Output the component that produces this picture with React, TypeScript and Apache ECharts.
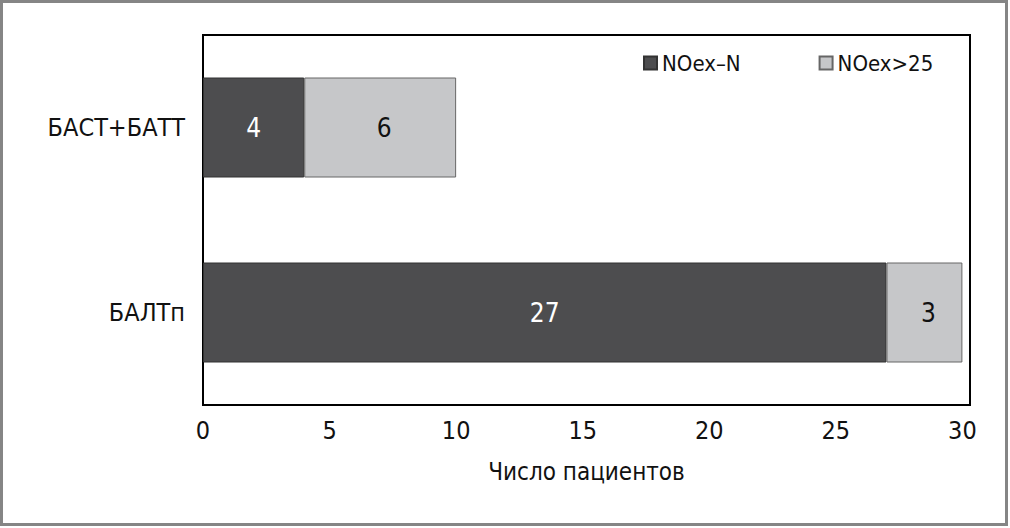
import React, { useEffect, useRef } from "react";
import * as echarts from "echarts";

const categories = ["БАСТ+БАТТ", "БАЛТп"];
const seriesNames = ["NOex–N", "NOex>25"];
const noexN = [4, 27];
const noex25 = [6, 3];
const xTicks = [0, 5, 10, 15, 20, 25, 30];

const FONT = "'Liberation Sans Narrow', 'Arial Narrow', 'DejaVu Sans Condensed', 'Liberation Sans', sans-serif";

export default function App() {
  const ref = useRef<HTMLDivElement>(null);
  useEffect(() => {
    document.body.style.margin = "0";
    const chart = echarts.init(ref.current!, null, { renderer: "svg" });
    chart.setOption({
      animation: false,
      backgroundColor: "#ffffff",
      textStyle: { fontFamily: FONT },
      graphic: [
        {
          type: "rect",
          shape: { x: 1.5, y: 1.5, width: 1005, height: 523 },
          style: { fill: "none", stroke: "#858585", lineWidth: 3 },
          silent: true,
        },
      ],
      legend: {
        top: 47,
        left: 638,
        itemWidth: 13,
        itemHeight: 13,
        itemGap: 78,
        icon: "rect",
        textStyle: { fontFamily: FONT, fontSize: 22, color: "#111" },
        data: seriesNames,
      },
      grid: {
        left: 203,
        right: 40,
        top: 35,
        bottom: 123,
        show: true,
        borderColor: "#000",
        borderWidth: 2,
        backgroundColor: "transparent",
      },
      xAxis: {
        type: "value",
        min: 0,
        max: 30.3,
        interval: 5,
        name: "Число пациентов",
        nameLocation: "middle",
        nameGap: 55,
        nameTextStyle: { fontFamily: FONT, fontSize: 24, color: "#111" },
        axisLine: { show: false },
        axisTick: { show: false },
        splitLine: { show: false },
        axisLabel: {
          fontFamily: FONT,
          fontSize: 25,
          color: "#111",
          margin: 13,
          formatter: (v: number) => (xTicks.includes(v) ? String(v) : ""),
        },
      },
      yAxis: {
        type: "category",
        data: categories,
        inverse: true,
        axisLine: { show: false },
        axisTick: { show: false },
        axisLabel: { fontFamily: FONT, fontSize: 25, color: "#111", margin: 18 },
      },
      series: [
        {
          name: seriesNames[0],
          type: "bar",
          stack: "total",
          data: noexN,
          barWidth: 100,
          itemStyle: { color: "#4d4d4f", borderColor: "#333", borderWidth: 1 },
          label: {
            show: true,
            position: "inside",
            color: "#fff",
            fontFamily: FONT,
            fontSize: 26,
          },
        },
        {
          name: seriesNames[1],
          type: "bar",
          stack: "total",
          data: noex25,
          barWidth: 100,
          itemStyle: { color: "#c6c7c9", borderColor: "#666", borderWidth: 1 },
          label: {
            show: true,
            position: "inside",
            color: "#111",
            fontFamily: FONT,
            fontSize: 26,
            offset: [4, 0],
          },
        },
      ],
    });
    return () => chart.dispose();
  }, []);
  return (
    <div
      ref={ref}
      style={{ position: "fixed", left: 0, top: 0, width: 1010, height: 528 }}
    />
  );
}
